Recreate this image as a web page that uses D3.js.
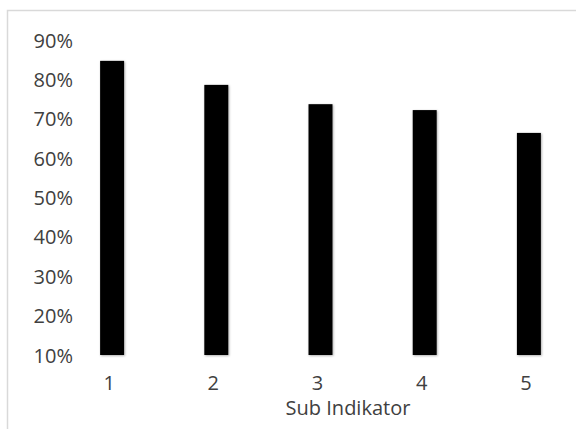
<!DOCTYPE html>
<html><head><meta charset="utf-8">
<script src="https://cdn.jsdelivr.net/npm/d3@7"></script>
<style>
html,body{margin:0;padding:0;background:#fff;}
text{font-family:"Open Sans",sans-serif;fill:#404040;}
</style></head>
<body>
<svg id="c" width="576" height="429"></svg>
<script>
const categories = ["1","2","3","4","5"];
const values = [84.7, 78.6, 73.7, 72.2, 66.4];
const yTicks = [10,20,30,40,50,60,70,80,90];
const xTitle = "Sub Indikator";

const svg = d3.select("#c");
const defs = svg.append("defs");
const f = defs.append("filter").attr("id","sh").attr("x","-30%").attr("y","-10%").attr("width","160%").attr("height","120%");
f.append("feDropShadow").attr("dx",0.8).attr("dy",0.8).attr("stdDeviation",1.3).attr("flood-color","#000").attr("flood-opacity",0.35);

// chart border (cropped at right and bottom)
svg.append("rect").attr("x",7.5).attr("y",10.5).attr("width",700).attr("height",700)
  .attr("fill","none").attr("stroke","#d9d9d9").attr("stroke-width",1.5);

const x = d3.scaleBand().domain(categories).range([60, 581]).paddingInner(0.77).paddingOuter(0.385);
const y = d3.scaleLinear().domain([10, 90]).range([355, 40]);

svg.append("g").selectAll("rect").data(values).join("rect")
  .attr("x",(d,i)=>x(categories[i]))
  .attr("width",x.bandwidth())
  .attr("y",d=>y(d))
  .attr("height",d=>y(10)-y(d))
  .attr("fill","#000")
  .attr("filter","url(#sh)");

const yAxis = d3.axisLeft(y).tickValues(yTicks).tickFormat(d=>d+"%").tickSize(0).tickPadding(0);
const ga = svg.append("g").attr("transform","translate(73,0)").call(yAxis);
ga.select(".domain").remove();
ga.selectAll("text").attr("font-size",20).attr("font-family","Open Sans").attr("fill","#404040").attr("dy","0.35em");

const xAxis = d3.axisBottom(x).tickSize(0).tickPadding(0);
const gx = svg.append("g").attr("transform","translate(-3,376)").call(xAxis);
gx.select(".domain").remove();
gx.selectAll("text").attr("font-size",20).attr("font-family","Open Sans").attr("fill","#404040").attr("dy","0.71em");

svg.append("text").attr("x",348).attr("y",415).attr("text-anchor","middle")
  .attr("font-size",20).text(xTitle);
</script>
</body></html>
